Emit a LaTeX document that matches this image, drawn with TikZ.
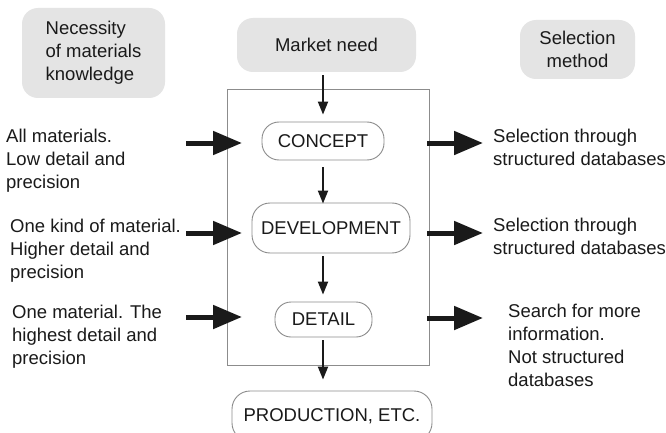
\documentclass[tikz,border=0pt]{standalone}
\usepackage{fontspec}
\setmainfont{Liberation Sans}
\usetikzlibrary{arrows.meta}
\definecolor{boxgray}{HTML}{E4E4E4}
\definecolor{linegray}{HTML}{8C8C8C}
\definecolor{ink}{HTML}{1A1A1A}
\begin{document}
\begin{tikzpicture}[x=1pt,y=-1pt,
  every node/.style={font=\fontsize{18.5}{23}\selectfont, text=ink},
  headbox/.style={fill=boxgray, rounded corners=16pt, inner sep=0pt},
  stagebox/.style={draw=linegray, line width=0.9pt, inner sep=0pt},
  note/.style={align=left, inner sep=0pt, anchor=west},
  flow/.style={draw=ink, -{Triangle[length=13pt,width=10pt]}, line width=2pt,
               shorten <=3pt, shorten >=7pt},
  fat/.style={draw=ink, -{Triangle[length=29pt,width=23pt]}, line width=5pt},
]
\clip (0,0) rectangle (666,433);
\fill[white] (0,0) rectangle (666,433);

% column headings
\node[headbox, minimum width=143pt, minimum height=90pt, align=left] (nec) at (93.5,53)
  {Necessity\\of materials\\knowledge};
\node[headbox, minimum width=179pt, minimum height=54pt] (market) at (326.5,45) {Market need};
\node[headbox, minimum width=115pt, minimum height=59pt, align=center] (selm) at (577.5,49.5)
  {Selection\\method};

% design process frame
\node[draw=linegray, line width=1pt, minimum width=202pt, minimum height=275pt,
      inner sep=0pt] (frame) at (328,227.5) {};

% process stages
\node[stagebox, rounded corners=17pt, minimum width=122pt, minimum height=38pt] (concept) at (323,141) {CONCEPT};
\node[stagebox, rounded corners=18pt, minimum width=158pt, minimum height=50pt] (dev) at (331,228) {DEVELOPMENT};
\node[stagebox, rounded corners=16pt, minimum width=97pt, minimum height=35pt] (detail) at (323.5,319.5) {DETAIL};
\node[stagebox, rounded corners=18pt, minimum width=200pt, minimum height=50pt] (prod) at (332,416) {PRODUCTION, ETC.};

% flow along the process
\coordinate (axis) at (323,0);
\draw[flow] (market.south -| axis) -- (concept.north -| axis);
\draw[flow, shorten <=7pt, shorten >=-1pt] (concept.south -| axis) -- (dev.north -| axis);
\draw[flow] (dev.south -| axis) -- (detail.north -| axis);
\draw[flow, shorten >=11pt] (detail.south -| axis) -- (prod.north -| axis);

% knowledge needed at each stage
\node[note] (lt1) at (6,161) {All materials.\\Low detail and\\precision};
\node[note] (lt2) at (10,251) {One kind of material.\\Higher detail and\\precision};
\node[note] (lt3) at (12,337) {One material. The\\highest detail and\\precision};

% selection method at each stage
\node[note] (rt1) at (493,147.5) {Selection through\\structured databases};
\node[note] (rt2) at (493,236.5) {Selection through\\structured databases};
\node[note] (rt3) at (508,345) {Search for more\\information.\\Not structured\\databases};

% input and output arrows
\coordinate (li1) at (186,143); \coordinate (lo1) at (242,143);
\coordinate (li2) at (186,233); \coordinate (lo2) at (242,233);
\coordinate (li3) at (186,317); \coordinate (lo3) at (242,317);
\coordinate (ri1) at (427,143); \coordinate (ro1) at (483,143);
\coordinate (ri2) at (427,233); \coordinate (ro2) at (483,233);
\coordinate (ri3) at (427,318); \coordinate (ro3) at (483,318);
\draw[fat] (li1) -- (lo1);
\draw[fat] (li2) -- (lo2);
\draw[fat] (li3) -- (lo3);
\draw[fat] (ri1) -- (ro1);
\draw[fat] (ri2) -- (ro2);
\draw[fat] (ri3) -- (ro3);
\end{tikzpicture}
\end{document}
